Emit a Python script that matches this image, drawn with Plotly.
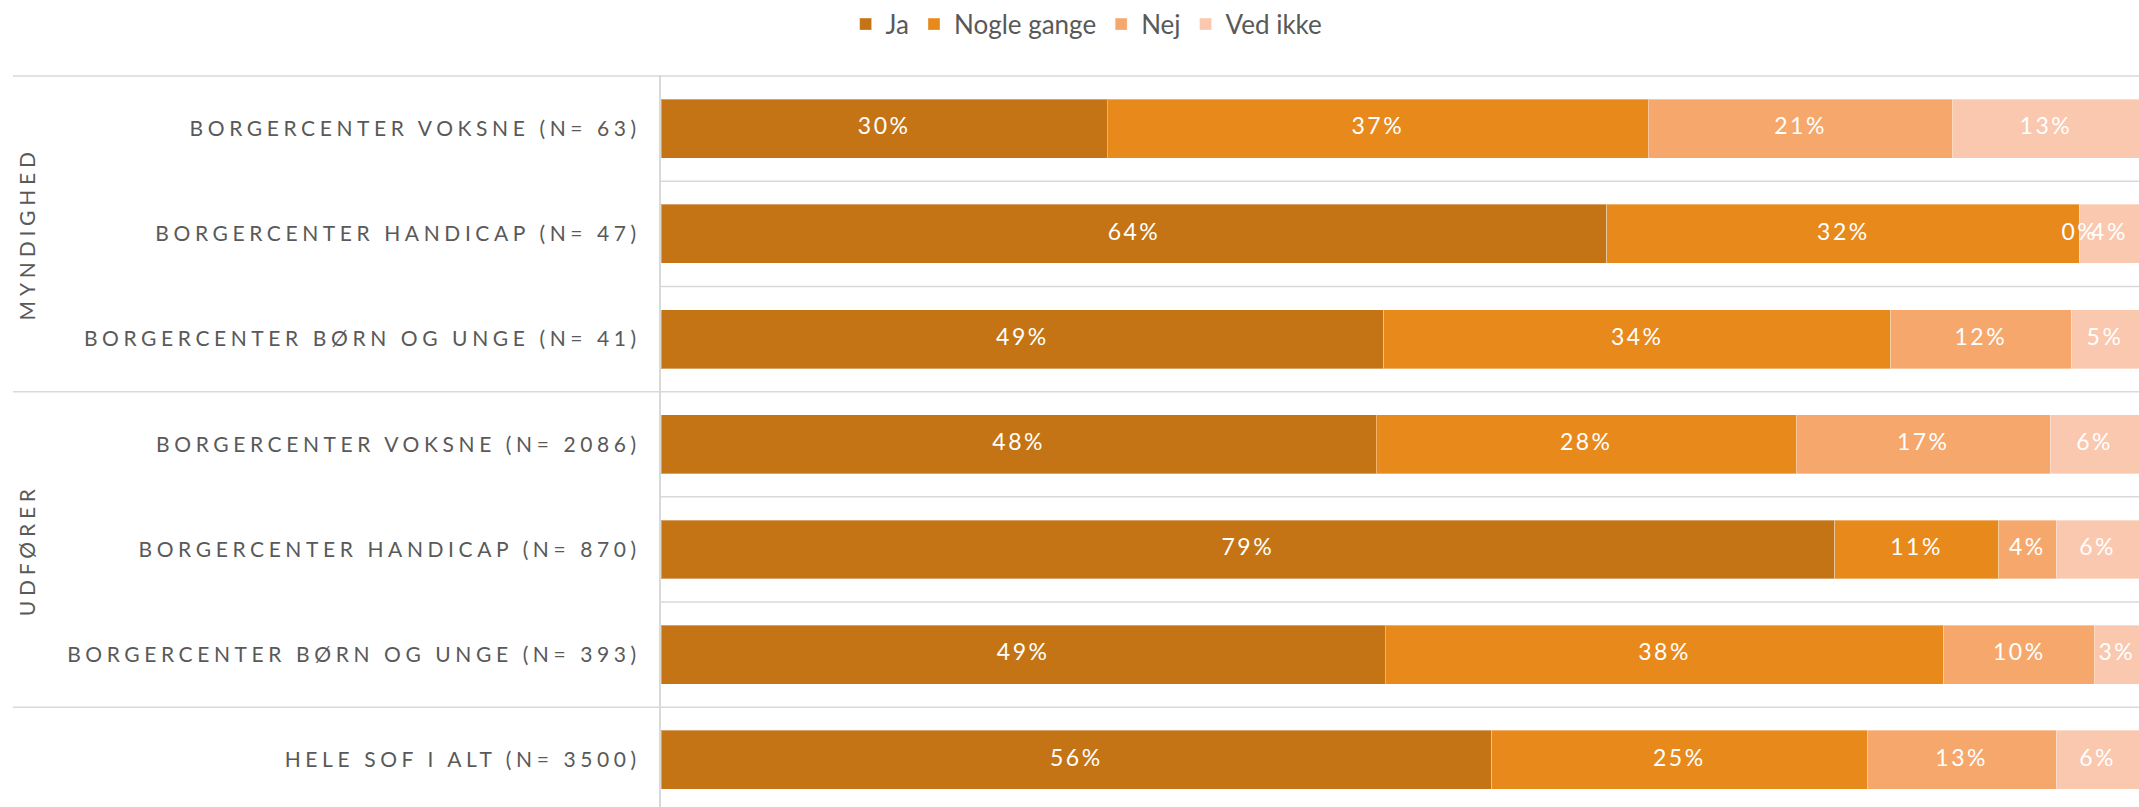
import numpy as np
import plotly.graph_objects as go

# Rows, top to bottom
categories = [
    "BORGERCENTER VOKSNE (N= 63)",
    "BORGERCENTER HANDICAP (N= 47)",
    "BORGERCENTER BØRN OG UNGE (N= 41)",
    "BORGERCENTER VOKSNE (N= 2086)",
    "BORGERCENTER HANDICAP (N= 870)",
    "BORGERCENTER BØRN OG UNGE (N= 393)",
    "HELE SOF I ALT (N= 3500)",
]
group_names = ["MYNDIGHED", "UDFØRER"]
group_rows = [[0, 1, 2], [3, 4, 5]]

series_names = ["Ja", "Nogle gange", "Nej", "Ved ikke"]
ja = [30.2, 64.0, 48.9, 48.4, 79.4, 49.0, 56.2]
nogle_gange = [36.6, 32.0, 34.3, 28.4, 11.1, 37.8, 25.4]
nej = [20.6, 0.0, 12.2, 17.2, 3.9, 10.2, 12.8]
ved_ikke = [12.6, 4.0, 4.6, 6.0, 5.6, 3.0, 5.6]

colors = ["#C47414", "#E8891C", "#F6A86C", "#FAC8AE"]
FONT = "Lato"
GREY = "#595959"
RULE = "#D9D9D9"

values = np.array([ja, nogle_gange, nej, ved_ikke])
starts = np.vstack([np.zeros(len(categories)), np.cumsum(values, axis=0)[:-1]])

fig = go.Figure()

for name, vals, col in zip(series_names, values, colors):
    fig.add_trace(go.Bar(
        y=categories, x=vals, name=name, orientation="h",
        marker=dict(color=col, line=dict(color="rgba(255,255,255,0.35)", width=1)),
        width=0.56, hoverinfo="skip",
    ))

# Percentage labels centred in each segment
for vals, st in zip(values, starts):
    fig.add_trace(go.Scatter(
        y=categories, x=st + vals / 2, mode="text",
        text=[f"{v:.0f}%" for v in vals],
        textfont=dict(family=FONT, size=23, color="white"),
        textposition="middle center", showlegend=False, hoverinfo="skip",
    ))

shapes = []
# Row separators inside the plot area
for i in range(len(categories) - 1):
    if i in (2, 5):
        continue
    shapes.append(dict(type="line", xref="paper", yref="y", x0=0, x1=1,
                       y0=i + 0.5, y1=i + 0.5, line=dict(color=RULE, width=1.5),
                       layer="below"))
# Group separators reaching out under the labels
for yv in (-0.5, 2.5, 5.5):
    shapes.append(dict(type="line", xref="paper", yref="y", x0=-0.4385, x1=1,
                       y0=yv, y1=yv, line=dict(color=RULE, width=1.5),
                       layer="below"))

annotations = []
for gname, rows in zip(group_names, group_rows):
    annotations.append(dict(
        text=gname, xref="paper", yref="y", x=-0.429, y=categories[rows[1]],
        textangle=-90, showarrow=False, xanchor="center", yanchor="middle",
        font=dict(family=FONT, size=21, color=GREY),
    ))

fig.update_layout(
    width=2139, height=807,
    margin=dict(l=661, r=0, t=75, b=0),
    barmode="stack",
    bargap=0.44,
    plot_bgcolor="white", paper_bgcolor="white",
    font=dict(family=FONT, color=GREY),
    shapes=shapes,
    annotations=annotations,
    legend=dict(
        orientation="h", xref="container", yref="container",
        x=0.508, xanchor="center", y=0.97, yanchor="middle",
        font=dict(family=FONT, size=26, color=GREY),
        traceorder="normal", itemwidth=30,
    ),
    xaxis=dict(range=[0, 100], visible=False, fixedrange=True),
    yaxis=dict(
        categoryorder="array", categoryarray=categories,
        range=[6.448, -0.51],
        showline=True, linecolor=RULE, linewidth=2,
        showgrid=False, zeroline=False, ticks="",
        ticklabelstandoff=14,
        tickfont=dict(family=FONT, size=21, color=GREY),
        fixedrange=True,
    ),
)

# Wide tracking on the axis, group and value labels
post = """
var gd = document.getElementById('{plot_id}');
function track() {
  gd.querySelectorAll('.ytick text').forEach(function(t){ t.style.letterSpacing = '4.6px'; });
  gd.querySelectorAll('.annotation-text').forEach(function(t){ t.style.letterSpacing = '4.8px'; });
  gd.querySelectorAll('.scatterlayer .textpoint text').forEach(function(t){ t.style.letterSpacing = '2.5px'; });
}
track();
gd.on('plotly_afterplot', track);
"""

fig.write_html("out.html", post_script=post, config={"displayModeBar": False})
